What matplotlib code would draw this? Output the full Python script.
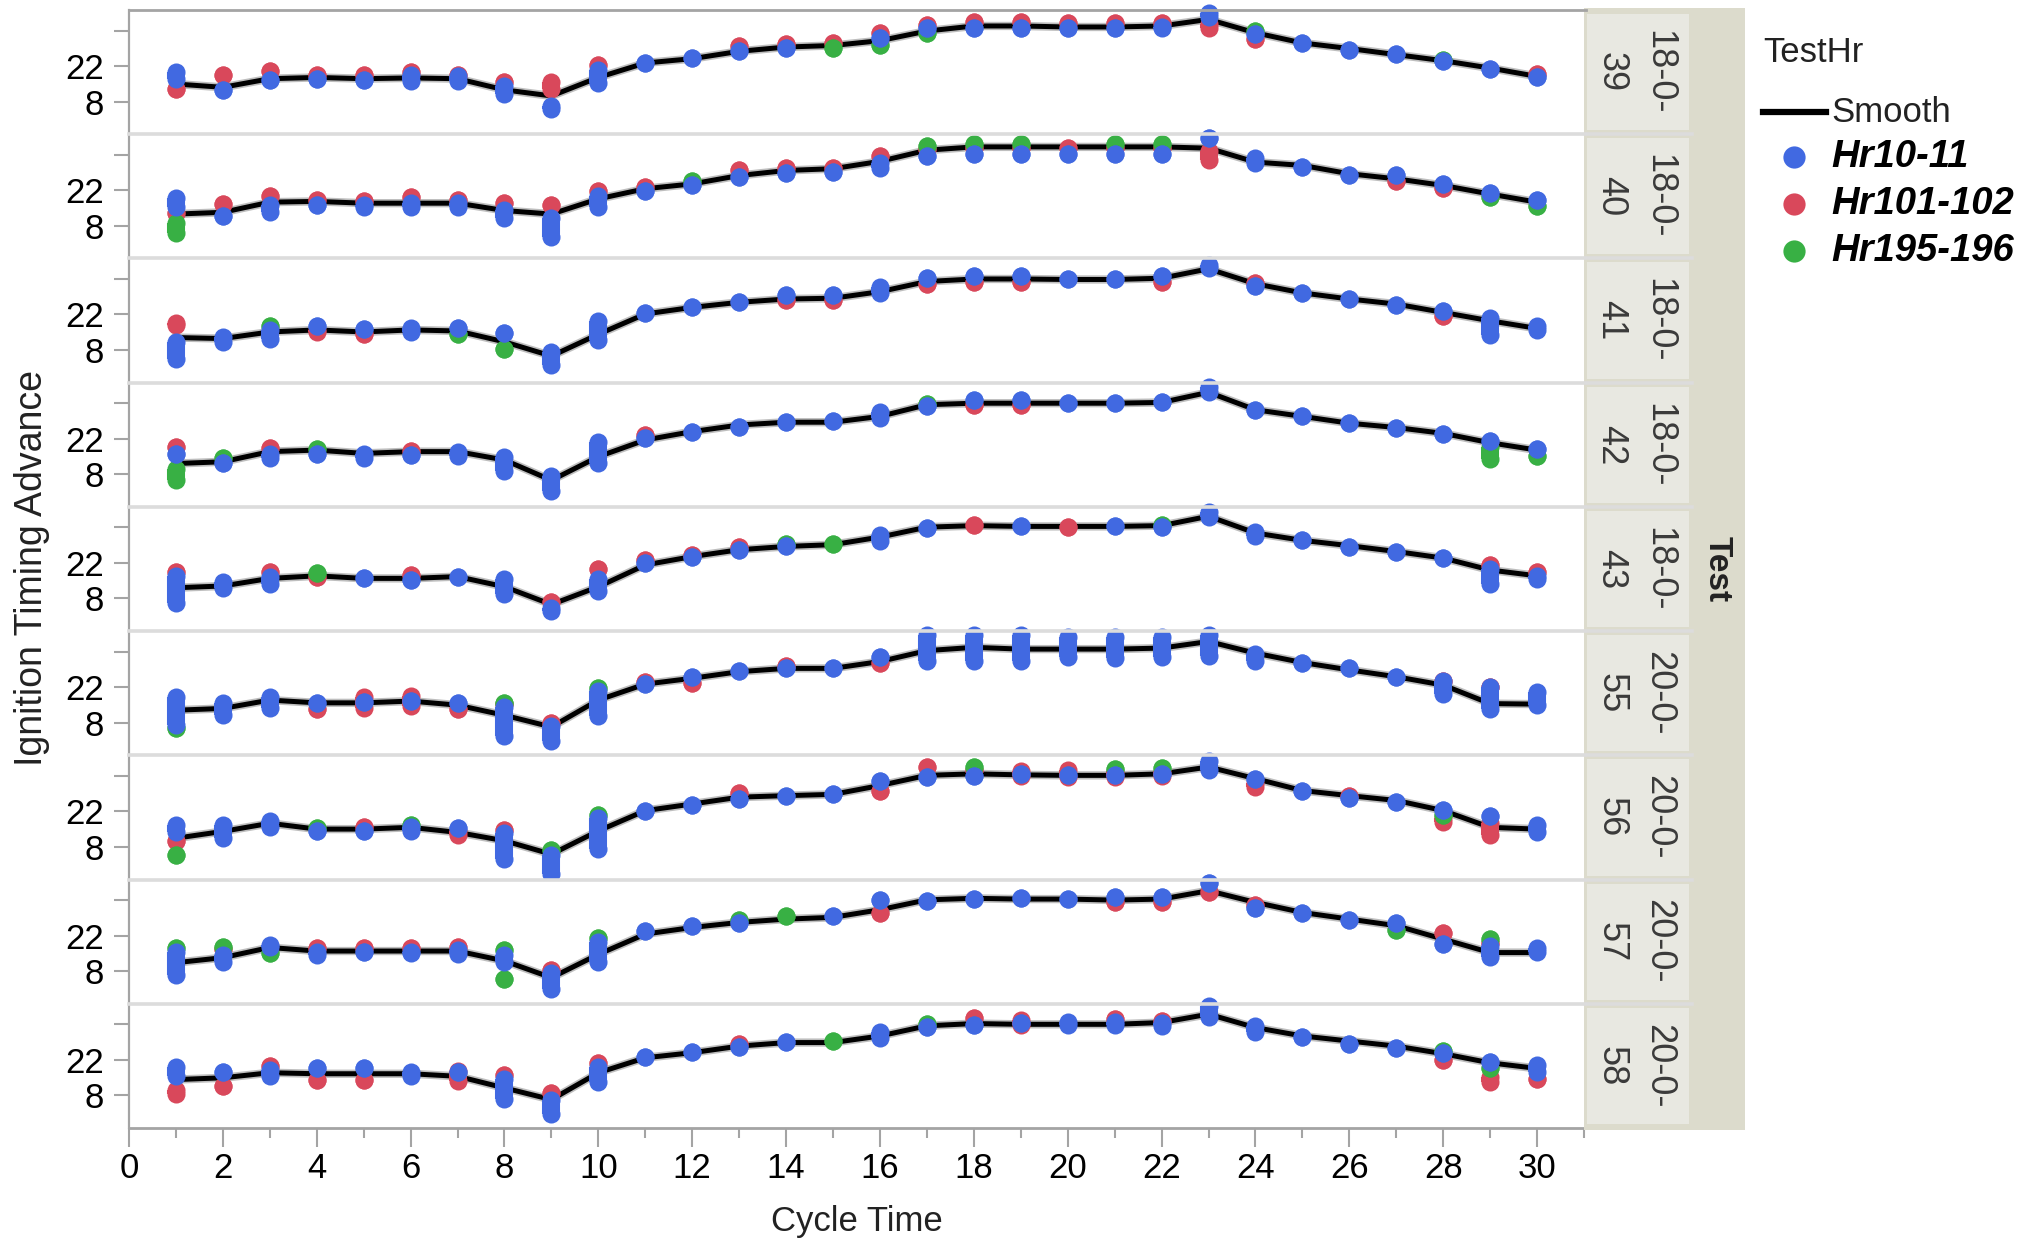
import matplotlib
matplotlib.use('Agg')
import matplotlib.pyplot as plt
from matplotlib.patches import Rectangle
from matplotlib.lines import Line2D

plt.rcParams['font.family'] = ['Liberation Sans', 'DejaVu Sans']

# ---- data ----
cycle = list(range(1, 31))
tests = ['18-0-39', '18-0-40', '18-0-41', '18-0-42', '18-0-43',
         '20-0-55', '20-0-56', '20-0-57', '20-0-58']
groups = ['Hr10-11', 'Hr101-102', 'Hr195-196']

# smoother per test
smooth_39 = [14.9, 13.6, 17.0, 17.5, 17.0, 17.3, 17.0, 12.6, 10.2, 17.5, 23.2, 24.9, 27.8, 29.5, 30.1,
             32.0, 35.8, 37.8, 37.8, 37.4, 37.4, 37.8, 40.4, 35.1, 31.1, 28.9, 26.5, 24.1, 21.2, 17.9]
smooth_40 = [12.6, 13.3, 17.3, 17.6, 16.9, 16.9, 16.9, 14.0, 12.6, 18.6, 22.6, 24.5, 27.8, 29.8, 30.5,
             33.4, 37.8, 39.1, 39.1, 39.1, 39.1, 39.1, 38.6, 33.1, 31.8, 28.5, 26.5, 23.9, 20.5, 17.3]
smooth_41 = [12.9, 12.5, 15.1, 15.9, 15.1, 15.9, 15.5, 11.2, 5.6, 14.2, 22.2, 24.8, 26.8, 28.1, 28.4,
             31.0, 35.0, 36.0, 36.0, 35.8, 35.8, 36.3, 40.0, 34.1, 30.5, 28.1, 26.1, 22.8, 19.5, 16.5]
smooth_42 = [12.2, 12.9, 16.9, 17.5, 16.2, 16.9, 16.9, 13.6, 5.6, 14.9, 21.5, 24.8, 27.4, 28.5, 28.5,
             30.8, 35.4, 36.0, 36.0, 36.0, 36.0, 36.3, 40.3, 33.4, 30.8, 28.1, 26.4, 24.1, 20.4, 17.5]
smooth_43 = [12.2, 12.9, 15.9, 16.9, 15.9, 15.9, 16.6, 12.6, 5.6, 12.6, 21.2, 24.5, 27.2, 28.5, 29.2,
             32.2, 36.1, 36.7, 36.4, 36.4, 36.4, 36.7, 40.4, 33.8, 30.9, 28.8, 26.5, 23.9, 19.2, 16.9]
smooth_55 = [12.9, 13.6, 16.9, 15.8, 15.8, 16.5, 14.9, 10.9, 6.3, 16.9, 23.2, 25.5, 28.1, 29.4, 29.4,
             32.1, 36.4, 37.7, 37.0, 37.0, 37.0, 37.4, 40.0, 35.4, 31.7, 28.8, 26.1, 22.8, 15.5, 15.3]
smooth_56 = [11.4, 14.1, 17.3, 15.0, 15.0, 15.7, 13.7, 10.4, 5.1, 14.3, 22.3, 24.9, 27.6, 28.2, 28.7,
             32.2, 36.2, 36.8, 36.4, 36.2, 36.2, 36.8, 39.5, 34.9, 30.2, 28.2, 26.3, 22.3, 15.7, 15.0]
smooth_57 = [11.3, 13.3, 17.3, 15.9, 15.9, 15.9, 15.9, 12.0, 5.4, 14.6, 22.6, 25.2, 27.2, 28.5, 29.2,
             32.2, 36.1, 36.7, 36.4, 36.4, 36.0, 36.4, 39.7, 35.1, 31.1, 28.5, 25.9, 20.6, 15.3, 15.3]
smooth_58 = [14.2, 14.9, 16.9, 16.5, 16.5, 16.5, 15.5, 10.9, 6.3, 16.9, 22.8, 24.8, 27.4, 28.8, 28.8,
             31.4, 35.4, 36.3, 36.0, 36.0, 36.0, 36.7, 40.0, 34.7, 31.4, 29.4, 27.4, 24.4, 20.8, 18.6]

# Hr10-11 points: value or (low, high) of the stacked points at each cycle time
blue_39 = [(17, 19.5), 12.6, 16.3, 17.0, 16.6, (16, 18.5), (16, 18), (10.9, 14.3), (5, 6.4), (15.5, 20.3),
           23.2, 25.2, 27.8, 29.2, None, 33.1, 37.1, 37.1, 37.1, 37.1,
           37.1, (37.1, 37.5), (41.5, 42.8), 34.5, 30.9, 28.2, 26.9, 23.9, 21.0, 17.5]
blue_40 = [(15.5, 19.0), 12.0, (13.6, 16.3), 16.3, (15.5, 16.3), (15.5, 17), (15.5, 17), (10.9, 14.3), (3.6, 11.0), (15.5, 19.6),
           21.9, 23.9, 27.2, 28.9, 29.2, (30.8, 32.9), 35.5, 36.4, 36.4, 36.4,
           36.4, 36.4, 42.8, (32.7, 34.8), 31.1, 28.2, 28.0, 24.5, 21.0, 18.3]
blue_41 = [(4.6, 11.3), (11.2, 13.3), (12.5, 15.9), 17.3, 16.2, (15.1, 16.6), 16.6, 14.6, (1.9, 7.3), (11.8, 19.5),
           22.4, 24.8, 26.8, 29.8, 29.8, (30.4, 32.7), 36.5, 37.0, 37.0, 35.8,
           35.8, 37.0, (40.3, 41.7), 33.1, 30.5, 28.0, 25.9, 23.2, (13.8, 20.6), (15.8, 17.3)]
blue_42 = [15.9, 12.6, (14.5, 15.9), 15.9, (14.5, 15.9), 15.5, (15.1, 16.9), (9.2, 14.6), (1.3, 7.3), (12.5, 20.6),
           22.2, 24.8, 26.8, 28.5, 28.8, (30.3, 32.5), 34.7, 37.3, 37.3, 36.0,
           36.0, 36.3, (40.3, 42.4), 33.4, 30.8, 28.1, 26.4, 24.0, 21.0, 17.9]
blue_43 = [(6.3, 17.0), (12.2, 14.3), (13.6, 16.3), None, 15.9, 15.3, 16.6, (9.6, 15.7), (3.0, 4.4), (10.9, 15.7),
           21.9, 24.5, 27.2, 28.5, None, (30.7, 32.9), 35.8, None, 36.4, None,
           36.4, 36.2, (40.1, 42.2), (32.7, 34.2), 30.9, 28.2, 26.4, 23.9, (13.6, 19.6), (15.5, 17.0)]
blue_55 = [(7.2, 18.3), (11.2, 15.9), (13.8, 18.3), 15.9, 16.3, 16.5, 15.9, (2.6, 14.0), (0.6, 6.7), (10.5, 20.6),
           23.2, 26.0, 28.5, 29.4, 29.4, 33.8, (32.3, 42.7), (32.5, 42.7), (32.5, 42.7), (33.7, 41.7),
           (33.3, 41.7), (33.7, 41.7), (34.3, 42.7), (32.3, 35.1), 31.4, 29.6, 26.1, (19.1, 24.5), (13.2, 21.9), (15.1, 19.9)]
blue_56 = [(14.0, 16.7), (11.3, 16.7), (15.9, 18.1), 14.1, 14.3, (14.3, 15.7), 15.4, (3.4, 13.4), (-2.6, 4.8), (7.3, 19.4),
           22.3, 24.7, 26.9, 28.2, 28.9, 34.0, 35.7, 35.9, 36.6, 36.4,
           36.4, 36.6, (38.4, 41.9), 34.6, 30.2, 27.3, 25.6, 22.7, 20.0, (14.0, 16.7)]
blue_57 = [(6.3, 15.7), (11.6, 14.3), (17.5, 18.3), (14.2, 15.7), 15.7, (15.0, 15.7), (14.6, 16.3), (11.6, 14.3), (1.0, 7.1), (11.6, 19.6),
           23.9, 25.6, 26.9, None, 29.6, 36.0, 35.8, 36.6, 36.8, 36.5,
           37.3, 37.3, 42.8, 32.9, 30.9, 28.2, 26.8, 18.5, (13.6, 17.7), (15.5, 17.0)]
blue_58 = [(15.8, 19.2), 17.3, (15.8, 17.9), 18.6, 18.6, (15.8, 17.3), 17.0, (6.5, 14.6), (0.6, 6.0), (13.2, 19.2),
           23.2, 25.2, 27.2, 29.2, None, (30.6, 33.1), 35.1, 35.8, 36.4, (35.6, 37.1),
           (35.6, 37.1), (35.5, 36.5), (38.9, 43.1), (33.0, 35.4), 30.8, 28.1, 26.7, 24.6, 21.0, (17.1, 19.9)]

# Hr101-102 points: (cycle time, low, high)
red_39 = [(1, 12.9, 12.9), (2, 18.3, 18.3), (3, 19.9, 19.9), (4, 18.6, 18.6), (5, 18.3, 18.3), (6, 19.6, 19.6),
          (7, 18.3, 18.3), (8, 15.7, 15.7), (9, 12.9, 15.7), (10, 22.3, 22.3), (13, 29.8, 29.8), (14, 30.5, 30.5),
          (15, 30.9, 30.9), (16, 34.9, 34.9), (17, 38.2, 38.2), (18, 39.2, 39.2), (19, 39.2, 39.2), (20, 39.1, 39.1),
          (21, 38.9, 38.9), (22, 38.9, 38.9), (23, 37.0, 38.5), (24, 32.5, 32.5), (30, 18.8, 18.8)]
red_40 = [(1, 13.0, 13.0), (2, 16.6, 16.6), (3, 19.6, 19.6), (4, 18.3, 18.3), (5, 17.9, 17.9), (6, 19.2, 19.2),
          (7, 18.3, 18.3), (8, 17.0, 17.0), (9, 16.3, 16.3), (10, 21.6, 21.6), (11, 23.2, 23.2), (13, 29.8, 29.8),
          (14, 30.9, 30.9), (15, 30.9, 30.9), (16, 35.5, 35.5), (17, 38.4, 38.4), (18, 38.8, 38.8), (19, 38.8, 38.8),
          (20, 38.8, 38.8), (21, 38.8, 38.8), (22, 38.8, 38.8), (23, 34.0, 37.5), (27, 25.5, 25.5), (28, 22.9, 22.9)]
red_41 = [(1, 17.8, 18.6), (4, 15.0, 15.8), (5, 14.2, 14.2), (14, 27.8, 27.8), (15, 27.8, 27.8), (17, 34.0, 34.0),
          (18, 35.0, 35.0), (19, 35.0, 35.0), (22, 35.0, 35.0), (24, 34.5, 34.5), (28, 21.5, 21.5)]
red_42 = [(1, 18.6, 18.6), (3, 18.2, 18.2), (6, 17.3, 17.3), (11, 23.5, 23.5), (18, 35.3, 35.3), (19, 35.3, 35.3)]
red_43 = [(1, 18.3, 18.3), (3, 18.3, 18.3), (4, 16.3, 16.3), (6, 17.3, 17.3), (9, 6.7, 6.7), (10, 19.6, 19.6),
          (11, 23.2, 23.2), (12, 25.2, 25.2), (13, 28.2, 28.2), (18, 37.1, 37.1), (20, 36.2, 36.2), (29, 21.2, 21.2),
          (30, 18.3, 18.3)]
red_55 = [(4, 13.3, 13.3), (5, 13.6, 18.0), (6, 14.5, 18.6), (7, 13.3, 13.3), (8, 15.5, 15.5), (9, 8.0, 8.0),
          (11, 23.9, 23.9), (12, 23.8, 23.8), (14, 30.2, 30.2), (16, 31.4, 31.4), (28, 24.6, 24.6), (29, 22.0, 22.0)]
red_56 = [(1, 10.4, 10.4), (5, 16.0, 16.0), (7, 12.6, 14.3), (8, 14.7, 14.7), (13, 29.3, 29.3), (16, 30.2, 30.2),
          (17, 39.6, 39.6), (18, 38.2, 38.2), (19, 35.8, 37.9), (20, 35.5, 38.2), (21, 35.5, 38.0), (22, 35.8, 37.5),
          (24, 31.8, 33.3), (26, 28.0, 28.0), (28, 17.9, 19.4), (29, 12.6, 17.4)]
red_57 = [(2, 16.6, 16.6), (4, 17.0, 17.0), (5, 17.0, 17.0), (6, 17.0, 17.0), (7, 17.3, 17.3), (9, 8.4, 8.4),
          (16, 30.9, 30.9), (21, 35.3, 35.3), (22, 35.3, 35.3), (23, 39.1, 39.1), (24, 34.2, 34.2), (28, 23.2, 23.2),
          (29, 19.0, 19.0)]
red_58 = [(1, 8.5, 10.0), (2, 11.6, 11.6), (3, 19.5, 19.5), (4, 14.2, 14.2), (5, 14.2, 14.2), (7, 13.5, 17.5),
          (8, 15.9, 15.9), (9, 8.9, 8.9), (10, 20.8, 20.8), (13, 28.1, 28.1), (18, 38.4, 38.4), (19, 35.6, 37.8),
          (21, 38.0, 38.0), (22, 37.5, 37.5), (28, 21.8, 21.8), (29, 13.4, 15.3), (30, 14.5, 14.5)]

# Hr195-196 points: (cycle time, low, high)
green_39 = [(15, 29.0, 29.0), (16, 30.3, 30.3), (17, 35.1, 35.1), (24, 36.0, 36.0), (28, 24.5, 24.5)]
green_40 = [(1, 5.0, 9.1), (12, 25.6, 25.6), (17, 39.5, 39.5), (18, 40.1, 40.1), (19, 40.1, 40.1), (21, 40.1, 40.1),
            (22, 40.1, 40.1), (29, 19.2, 19.2), (30, 15.7, 15.7)]
green_41 = [(3, 17.3, 17.3), (7, 14.2, 14.2), (8, 8.3, 8.3)]
green_42 = [(1, 5.9, 10.0), (2, 14.2, 14.2), (4, 17.9, 17.9), (17, 35.8, 35.8), (29, 13.8, 18.6), (30, 15.3, 15.3)]
green_43 = [(4, 18.0, 18.0), (14, 29.3, 29.3), (15, 29.6, 29.6), (22, 36.8, 36.8)]
green_55 = [(1, 5.9, 5.9), (8, 15.7, 15.7), (10, 21.6, 21.6)]
green_56 = [(1, 4.8, 4.8), (4, 15.4, 15.4), (6, 16.7, 16.7), (9, 6.8, 6.8), (10, 20.7, 20.7), (18, 39.5, 39.5),
            (21, 38.6, 38.6), (22, 39.2, 39.2), (28, 20.7, 20.7)]
green_57 = [(1, 17.0, 17.0), (2, 17.3, 17.3), (3, 15.3, 15.3), (8, 4.7, 4.7), (8, 16.3, 16.3), (10, 21.0, 21.0),
            (13, 28.2, 28.2), (14, 29.6, 29.6), (27, 24.3, 24.3), (29, 20.6, 20.6)]
green_58 = [(15, 29.4, 29.4), (17, 36.3, 36.3), (28, 25.3, 25.3), (29, 18.6, 18.6)]

smooth = [smooth_39, smooth_40, smooth_41, smooth_42, smooth_43, smooth_55, smooth_56, smooth_57, smooth_58]
blue = [blue_39, blue_40, blue_41, blue_42, blue_43, blue_55, blue_56, blue_57, blue_58]
red = [red_39, red_40, red_41, red_42, red_43, red_55, red_56, red_57, red_58]
green = [green_39, green_40, green_41, green_42, green_43, green_55, green_56, green_57, green_58]

BLUE, RED, GREEN = '#4169E1', '#D9485B', '#38B044'
AXC = '#a4a4a4'
W, H = 2025, 1242


def fx(px):
    return px / W


def fy(py):
    return 1 - py / H


def spans_from_list(vals):
    out = []
    for x, v in zip(cycle, vals):
        if v is None:
            continue
        lo, hi = (v, v) if not isinstance(v, tuple) else v
        out.append((x, lo, hi))
    return out


def draw_points(ax, spans, color):
    # a column of overlapping dots is drawn as a thick bar with dot ends
    for x, lo, hi in spans:
        ax.plot([x, x], [lo, hi], color=color, lw=13, solid_capstyle='butt',
                marker='o', ms=13, mew=0, zorder=3, clip_on=False)


fig = plt.figure(figsize=(W / 100, H / 100), dpi=100)

x_left, x_right = 129, 1584
p_top, p_bot = 10, 1128
ph = (p_bot - p_top) / len(tests)

for i, name in enumerate(tests):
    top_px = p_top + i * ph
    ax = fig.add_axes([fx(x_left), fy(top_px + ph), fx(x_right) - fx(x_left), ph / H])
    ax.set_xlim(0, 31)
    ax.set_ylim(-4.9, 44.1)

    ax.plot(cycle, smooth[i], color='#8a8a8a', lw=6, alpha=0.55, zorder=2)
    ax.plot(cycle, smooth[i], color='black', lw=3.6, zorder=2.1)

    draw_points(ax, red[i], RED)
    draw_points(ax, green[i], GREEN)
    draw_points(ax, spans_from_list(blue[i]), BLUE)

    for s in ['right', 'bottom', 'top']:
        ax.spines[s].set_visible(False)
    ax.spines['left'].set_color(AXC)
    ax.spines['left'].set_linewidth(1.6)

    ax.set_yticks([8, 22, 36])
    ax.set_yticklabels(['8', '22', ''], fontsize=25)
    ax.tick_params(axis='y', length=11, width=1.5, color=AXC, pad=7)

    ax.set_xticks(range(0, 31, 2))
    ax.set_xticks(range(0, 32), minor=True)
    if i == len(tests) - 1:
        ax.spines['bottom'].set_visible(True)
        ax.spines['bottom'].set_color(AXC)
        ax.spines['bottom'].set_linewidth(2)
        ax.set_xticklabels([str(v) for v in range(0, 31, 2)], fontsize=25)
        ax.tick_params(axis='x', which='major', length=14, width=1.5, color=AXC, pad=3)
        ax.tick_params(axis='x', which='minor', length=7.5, width=1.5, color=AXC)
    else:
        ax.tick_params(axis='x', which='both', length=0, labelbottom=False)

    # strip for this test
    fig.patches.append(Rectangle((fx(1587), fy(top_px + ph - 4)), fx(1689) - fx(1587), (ph - 8) / H,
                                 transform=fig.transFigure, facecolor='#e8e8e1', edgecolor='none', zorder=1))
    head, num = name[:5], name[5:]
    cy = fy(top_px + ph / 2)
    fig.text(fx(1659), cy, head, rotation=-90, ha='center', va='center', fontsize=26, color='#3a3a3a', zorder=3)
    fig.text(fx(1611), cy, num, rotation=-90, ha='center', va='center', fontsize=26, color='#3a3a3a', zorder=3)

    # separator / top border
    if i == 0:
        fig.add_artist(Line2D([fx(x_left), fx(x_right + 2)], [fy(top_px), fy(top_px)],
                              color=AXC, lw=2, zorder=4))
    else:
        fig.add_artist(Line2D([fx(x_left), fx(1692)], [fy(top_px), fy(top_px)],
                              color='#dcdcdc', lw=2.6, zorder=4))

# outer strip
fig.patches.insert(0, Rectangle((fx(x_right), fy(1130)), fx(1745) - fx(x_right), (1130 - 8) / H,
                                transform=fig.transFigure, facecolor='#dcdbcc', edgecolor='none', zorder=0))
fig.text(fx(1717), fy((p_top + p_bot) / 2), 'Test', rotation=-90, ha='center', va='center',
         fontsize=24, fontweight='bold', color='#222222')

# axis titles
fig.text(fx((x_left + x_right) / 2), fy(1222), 'Cycle Time', ha='center', va='center',
         fontsize=25, color='#222222')
fig.text(fx(32), fy(568), 'Ignition Timing Advance', rotation=90, ha='center', va='center',
         fontsize=27, color='#222222')

# legend
fig.text(fx(1763), fy(53), 'TestHr', ha='left', va='center', fontsize=25, color='#222222')
fig.add_artist(Line2D([fx(1763), fx(1826)], [fy(112), fy(112)], color='black', lw=4.5))
fig.text(fx(1831), fy(112), 'Smooth', ha='left', va='center', fontsize=25, color='#222222')
for k, (g, c) in enumerate(zip(groups, [BLUE, RED, GREEN])):
    yy = 157 + 47 * k
    fig.add_artist(Line2D([fx(1794)], [fy(yy)], marker='o', ms=16, mew=0, color=c))
    fig.text(fx(1831), fy(yy), g, ha='left', va='center', fontsize=27.5,
             fontweight='bold', fontstyle='italic', color='black')

fig.savefig('out.png', dpi=100)
